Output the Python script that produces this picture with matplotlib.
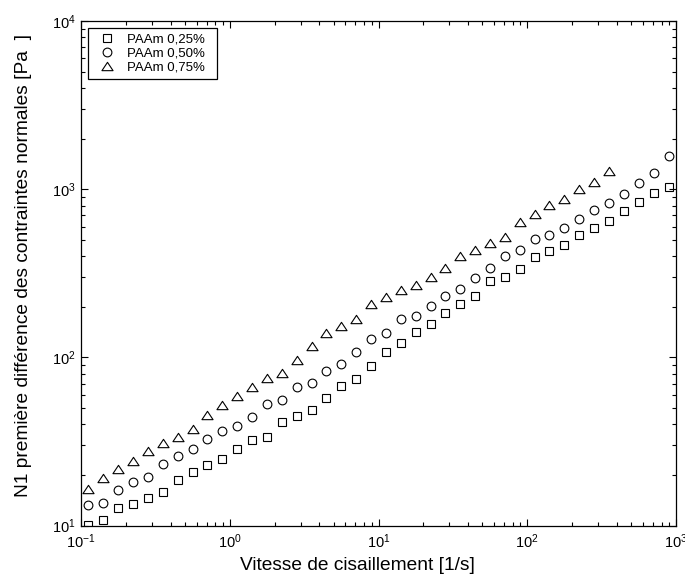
import matplotlib
matplotlib.use("Agg")
import matplotlib.pyplot as plt
from matplotlib.path import Path
from matplotlib.ticker import LogLocator, LogFormatterMathtext, NullFormatter

plt.rcParams['font.family'] = ['Liberation Sans', 'DejaVu Sans']
plt.rcParams['mathtext.default'] = 'regular'

# Shear rate [1/s]
shear_rate = [0.112, 0.141, 0.178, 0.224, 0.282, 0.355, 0.447, 0.562, 0.708, 0.891,
              1.12, 1.41, 1.78, 2.24, 2.82, 3.55, 4.47, 5.62, 7.08, 8.91,
              11.2, 14.1, 17.8, 22.4, 28.2, 35.5, 44.7, 56.2, 70.8, 89.1,
              112, 141, 178, 224, 282, 355, 447, 562, 708, 891]

n1_025 = [10.05, 10.77, 12.74, 13.52, 14.61, 15.80, 18.69, 20.86, 22.86, 24.93,
          28.46, 32.32, 33.81, 41.36, 45.08, 48.74, 57.43, 67.43, 74.50, 89.03,
          107.8, 121.5, 141.8, 157.5, 184.6, 208.0, 232.1, 283.8, 302.2, 334.5,
          395.8, 431.5, 464.6, 532.8, 588.8, 645.3, 740.0, 840.6, 954.5, 1027.8]

n1_050 = [13.22, 13.59, 16.23, 18.11, 19.40, 23.18, 26.08, 28.58, 32.64, 36.56,
          39.26, 44.46, 52.70, 55.88, 67.06, 70.26, 82.78, 91.87, 108.3, 128.3,
          140.4, 169.4, 177.2, 203.2, 232.1, 255.5, 295.7, 339.1, 401.3, 435.6,
          506.3, 532.8, 588.8, 668.7, 753.2, 832.4, 937.8, 1085.6, 1245, 1578]

n1_075 = [16.53, 19.13, 21.64, 24.25, 27.81, 30.90, 33.81, 37.73, 45.34, 51.98,
          59.19, 66.49, 75.85, 80.56, 96.63, 117.1, 140.4, 153.9, 169.4, 207.2,
          229.9, 251.9, 269.8, 299.8, 339.1, 401.3, 435.6, 477.5, 522.7, 642,
          711, 803, 872, 1008, 1105, 1290]

labels = ['PAAm 0,25%', 'PAAm 0,50%', 'PAAm 0,75%']

fig = plt.figure(figsize=(6.85, 5.81), dpi=100)
ax = fig.add_axes([81/685, 1-525.7/581, 595/685, 504.7/581])

tri = Path([(-1, -0.75), (1, -0.75), (0, 0.75), (-1, -0.75)],
           [Path.MOVETO, Path.LINETO, Path.LINETO, Path.CLOSEPOLY])

common = dict(linestyle='none', markerfacecolor='none', markeredgecolor='black',
              markeredgewidth=0.8)
ax.plot(shear_rate, n1_025, marker='s', markersize=5.2, label=labels[0], **common)
ax.plot(shear_rate, n1_050, marker='o', markersize=6.3, label=labels[1], **common)
ax.plot(shear_rate[:len(n1_075)], n1_075, marker=tri, markersize=8.0, label=labels[2], **common)

ax.set_xscale('log')
ax.set_yscale('log')
ax.set_xlim(0.1, 1000)
ax.set_ylim(10, 10000)

for a in (ax.xaxis, ax.yaxis):
    a.set_major_locator(LogLocator(base=10, numticks=10))
    a.set_major_formatter(LogFormatterMathtext())
    a.set_minor_locator(LogLocator(base=10, subs=range(2, 10), numticks=20))
    a.set_minor_formatter(NullFormatter())

ax.tick_params(which='both', direction='in', top=True, right=True, width=0.8, color='black')
ax.tick_params(which='major', length=5, labelsize=10.5)
ax.tick_params(axis='x', which='major', pad=5)
ax.tick_params(axis='y', which='major', pad=4)
ax.tick_params(which='minor', length=3.2)
for s in ax.spines.values():
    s.set_linewidth(0.9)
    s.set_color('black')

ax.set_xlabel('Vitesse de cisaillement [1/s]', fontsize=13.8)
ax.xaxis.set_label_coords((357.5 - 81) / 595, -(557 - 525.7) / 504.7)
ax.set_ylabel('N1 première différence des contraintes normales [Pa  ]', fontsize=13.8)
ax.yaxis.set_label_coords((32 - 81) / 595, 1 - (265 - 21) / 504.7)

leg = ax.legend(loc='upper left',
                bbox_to_anchor=(7/595, 1 - 7/504.7 - 0.2, 129/595, 0.2),
                mode='expand', borderaxespad=0,
                fontsize=9.5, frameon=True, fancybox=False, edgecolor='black',
                framealpha=1, borderpad=0.4, handlelength=2.03, handletextpad=0.5,
                labelspacing=0.15, numpoints=1)
leg.get_frame().set_linewidth(0.9)

fig.savefig('out.png', dpi=100)
